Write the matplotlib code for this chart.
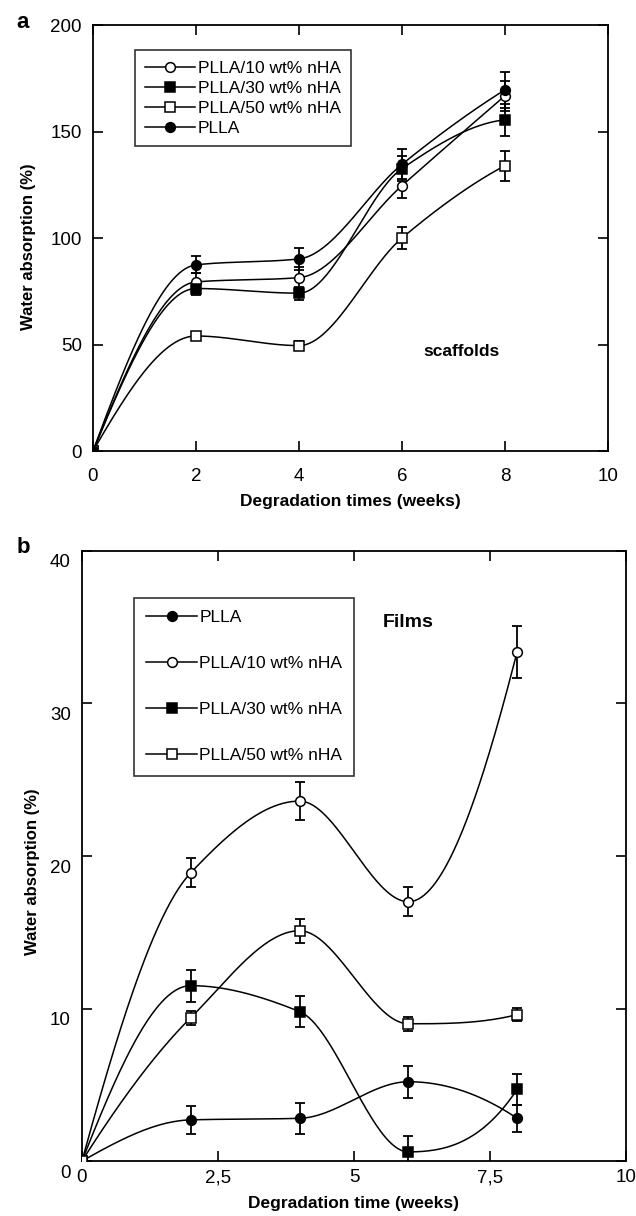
import numpy as np
import matplotlib.pyplot as plt
from matplotlib.transforms import ScaledTranslation

plt.rcParams['font.family'] = ['Liberation Sans', 'DejaVu Sans']

# ---- scaffolds (panel a)
weeks_a = [0, 2, 4, 6, 8]
pl_a = [0, 87.4, 90.2, 134.6, 169.6]
pl_a_err = [0, 4, 5, 7, 8.5]
p10_a = [0, 79.4, 81.4, 124.6, 166.8]
p10_a_err = [0, 4, 5, 6, 7]
p30_a = [0, 76.3, 74.1, 132.6, 155.5]
p30_a_err = [0, 3, 3, 6, 7.5]
p50_a = [0, 54.0, 49.5, 100.0, 134.0]
p50_a_err = [0, 2, 2, 5, 7]

# ---- films (panel b)
weeks_b = [0, 2, 4, 6, 8]
pl_b = [0, 2.7, 2.8, 5.2, 2.8]
pl_b_err = [0, 0.9, 1.0, 1.05, 0.9]
p10_b = [0, 18.9, 23.6, 17.0, 33.4]
p10_b_err = [0, 0.95, 1.25, 0.95, 1.7]
p30_b = [0, 11.5, 9.8, 0.6, 4.7]
p30_b_err = [0, 1.05, 1.0, 1.05, 1.0]
p50_b = [0, 9.4, 15.1, 9.0, 9.6]
p50_b_err = [0, 0.45, 0.8, 0.45, 0.45]


def pchip(x, y, n=300):
    # shape preserving cubic (Fritsch-Carlson) through the points
    x = np.asarray(x, float)
    y = np.asarray(y, float)
    h = np.diff(x)
    d = np.diff(y) / h
    k = len(x)
    m = np.zeros(k)
    for i in range(1, k - 1):
        if d[i - 1] * d[i] > 0:
            w1 = 2 * h[i] + h[i - 1]
            w2 = h[i] + 2 * h[i - 1]
            m[i] = (w1 + w2) / (w1 / d[i - 1] + w2 / d[i])

    def edge(h0, h1, d0, d1):
        s = ((2 * h0 + h1) * d0 - h0 * d1) / (h0 + h1)
        if np.sign(s) != np.sign(d0):
            return 0.0
        if np.sign(d0) != np.sign(d1) and abs(s) > 3 * abs(d0):
            return 3 * d0
        return s

    m[0] = edge(h[0], h[1], d[0], d[1])
    m[-1] = edge(h[-1], h[-2], d[-1], d[-2])
    xs = np.linspace(x[0], x[-1], n)
    idx = np.clip(np.searchsorted(x, xs) - 1, 0, k - 2)
    hh = h[idx]
    t = (xs - x[idx]) / hh
    ys = ((2 * t**3 - 3 * t**2 + 1) * y[idx] + (t**3 - 2 * t**2 + t) * hh * m[idx]
          + (-2 * t**3 + 3 * t**2) * y[idx + 1] + (t**3 - t**2) * hh * m[idx + 1])
    return xs, ys


def draw(ax, x, y, err, marker, fill, label):
    xs, ys = pchip(x, y)
    ax.plot(xs, ys, color='k', lw=1.1, zorder=2)
    ax.errorbar(x[1:], y[1:], yerr=err[1:], fmt='none', ecolor='k',
                elinewidth=1.3, capsize=3.5, capthick=1.3, zorder=3)
    ax.plot(x, y, ls='none', marker=marker, ms=7, mfc=fill, mec='k',
            mew=1.1, zorder=4)
    h, = ax.plot([], [], color='k', lw=1.1, marker=marker, ms=7,
                 mfc=fill, mec='k', mew=1.1, label=label)
    return h


fig = plt.figure(figsize=(6.36, 12.16), dpi=100)
ax1 = fig.add_axes([0.1462, 0.6291, 0.8097, 0.3503])
ax2 = fig.add_axes([0.1289, 0.0452, 0.8553, 0.5017])

h10 = draw(ax1, weeks_a, p10_a, p10_a_err, 'o', 'white', 'PLLA/10 wt% nHA')
h30 = draw(ax1, weeks_a, p30_a, p30_a_err, 's', 'k', 'PLLA/30 wt% nHA')
h50 = draw(ax1, weeks_a, p50_a, p50_a_err, 's', 'white', 'PLLA/50 wt% nHA')
hpl = draw(ax1, weeks_a, pl_a, pl_a_err, 'o', 'k', 'PLLA')

ax1.set_xlim(0, 10)
ax1.set_ylim(0, 200)
ax1.set_xticks([0, 2, 4, 6, 8, 10])
ax1.set_yticks([0, 50, 100, 150, 200])
ax1.set_xlabel('Degradation times (weeks)', fontsize=12.5, fontweight='bold',
               va='top')
ax1.set_ylabel('Water absorption (%)', fontsize=12, fontweight='bold')
ax1.xaxis.set_label_coords(0.5, -0.1)
ax1.yaxis.set_label_coords(-0.11, 0.479)
ax1.text(7.16, 46.8, 'scaffolds', fontsize=12.5, fontweight='bold',
         ha='center', va='center')
ax1.text(-0.136, 1.005, 'a', transform=ax1.transAxes, fontsize=16,
         fontweight='bold', ha='center', va='center')
leg1 = ax1.legend(handles=[h10, h30, h50, hpl], loc='upper left',
                  bbox_to_anchor=(0.081, 0.941), frameon=True, fancybox=False,
                  edgecolor='k', fontsize=12.5, handlelength=2.9,
                  handletextpad=0.15, labelspacing=0.28, borderpad=0.6,
                  borderaxespad=0)
leg1.get_frame().set_linewidth(1.2)

g_pl = draw(ax2, weeks_b, pl_b, pl_b_err, 'o', 'k', 'PLLA')
g10 = draw(ax2, weeks_b, p10_b, p10_b_err, 'o', 'white', 'PLLA/10 wt% nHA')
g30 = draw(ax2, weeks_b, p30_b, p30_b_err, 's', 'k', 'PLLA/30 wt% nHA')
g50 = draw(ax2, weeks_b, p50_b, p50_b_err, 's', 'white', 'PLLA/50 wt% nHA')

ax2.set_xlim(0, 10)
ax2.set_ylim(0, 40)
ax2.set_xticks([0, 2.5, 5, 7.5, 10])
ax2.set_xticklabels(['0', '2,5', '5', '7,5', '10'])
ax2.set_yticks([0, 10, 20, 30, 40])
ax2.set_xlabel('Degradation time (weeks)', fontsize=12.5, fontweight='bold',
               va='top')
ax2.set_ylabel('Water absorption (%)', fontsize=12, fontweight='bold')
ax2.xaxis.set_label_coords(0.5, -0.057)
ax2.yaxis.set_label_coords(-0.077, 0.475)
ax2.text(6.0, 35.3, 'Films', fontsize=14, fontweight='bold',
         ha='center', va='center')
ax2.text(-0.108, 1.005, 'b', transform=ax2.transAxes, fontsize=16,
         fontweight='bold', ha='center', va='center')
leg2 = ax2.legend(handles=[g_pl, g10, g30, g50], loc='upper left',
                  bbox_to_anchor=(0.096, 0.923), frameon=True, fancybox=False,
                  edgecolor='k', fontsize=12.5, handlelength=2.9,
                  handletextpad=0.15, labelspacing=1.78, borderpad=0.7,
                  borderaxespad=0)
leg2.get_frame().set_linewidth(1.2)

for ax in (ax1, ax2):
    ax.tick_params(direction='in', length=7, width=1.2, labelsize=13.5,
                   top=True, right=True)
    ax.tick_params(axis='y', pad=8)
    for s in ax.spines.values():
        s.set_linewidth(1.3)
ax1.tick_params(axis='x', pad=12)
ax2.tick_params(axis='x', pad=6)

# y tick labels of the films panel sit a little below their ticks
shift = ScaledTranslation(0, -10 / 100, fig.dpi_scale_trans)
for lab in ax2.get_yticklabels():
    lab.set_transform(lab.get_transform() + shift)

fig.savefig('out.png', dpi=100)
